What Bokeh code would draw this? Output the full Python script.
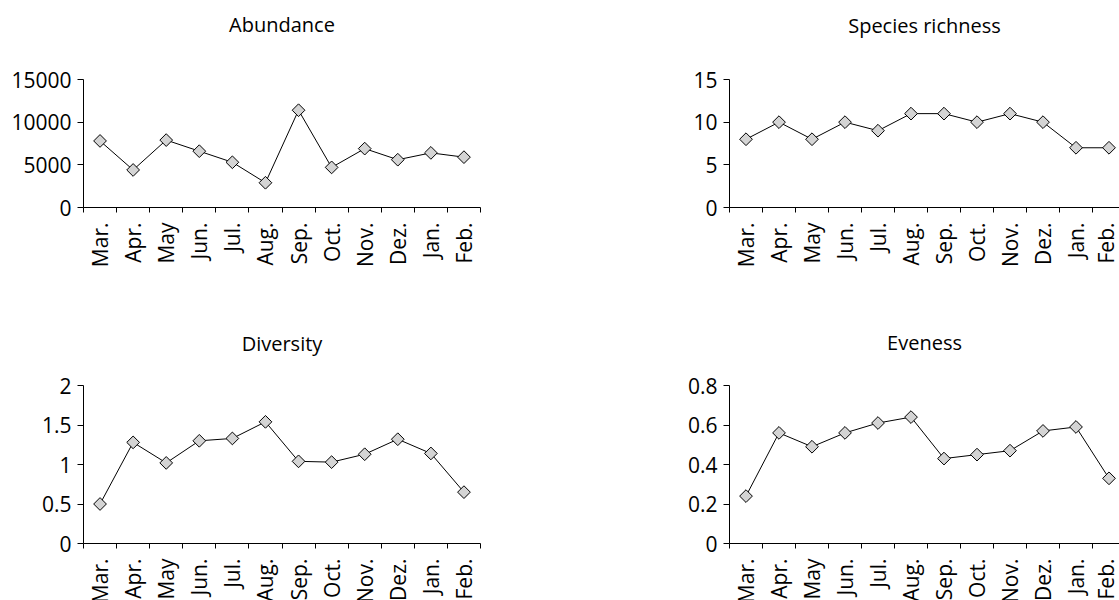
import numpy as np
from bokeh.plotting import figure
from bokeh.layouts import row, column
from bokeh.models import Range1d, FixedTicker, Title
from bokeh.embed import file_html
from bokeh.resources import INLINE

months = ["Mar.", "Apr.", "May", "Jun.", "Jul.", "Aug.", "Sep.", "Oct.", "Nov.", "Dez.", "Jan.", "Feb."]
abundance = [7800, 4400, 7900, 6600, 5300, 2900, 11400, 4700, 6900, 5600, 6400, 5900]
richness = [8, 10, 8, 10, 9, 11, 11, 10, 11, 10, 7, 7]
diversity = [0.50, 1.28, 1.02, 1.30, 1.33, 1.54, 1.04, 1.03, 1.13, 1.32, 1.14, 0.65]
eveness = [0.24, 0.56, 0.49, 0.56, 0.61, 0.64, 0.43, 0.45, 0.47, 0.57, 0.59, 0.33]

titles = ["Abundance", "Species richness", "Diversity", "Eveness"]
ticks_abundance = [0, 5000, 10000, 15000]
labels_abundance = ["0", "5000", "10000", "15000"]
ticks_richness = [0, 5, 10, 15]
labels_richness = ["0", "5", "10", "15"]
ticks_diversity = [0, 0.5, 1, 1.5, 2]
labels_diversity = ["0", "0.5", "1", "1.5", "2"]
ticks_eveness = [0, 0.2, 0.4, 0.6, 0.8]
labels_eveness = ["0", "0.2", "0.4", "0.6", "0.8"]

FONT = "Open Sans"
TITLE_FS = "20px"
TICK_FS = "21px"


def panel(title, values, yticks, ylabels, width, height, bl, br, bt, bb, x_end, spacer):
    n = len(months)
    centers = [i + 0.5 for i in range(n)]
    bounds = [float(i) for i in range(n + 1)]
    p = figure(width=width, height=height, output_backend="svg", toolbar_location=None,
               x_range=Range1d(0, x_end), y_range=Range1d(yticks[0], yticks[-1]))
    p.min_border_left = bl
    p.min_border_right = br
    p.min_border_top = bt
    p.min_border_bottom = bb
    p.outline_line_color = None
    p.xgrid.visible = False
    p.ygrid.visible = False
    p.background_fill_color = "white"
    p.border_fill_color = "white"

    # spacing between the title and the plot area
    p.add_layout(Title(text=" ", text_font_size="1px", standoff=spacer), "above")
    p.add_layout(Title(text=title, align="center", text_font=FONT, text_font_size=TITLE_FS,
                       text_font_style="normal", text_color="black", standoff=0), "above")

    xa = p.xaxis[0]
    xa.ticker = FixedTicker(ticks=centers, minor_ticks=bounds)
    xa.major_label_overrides = {c: m for c, m in zip(centers, months)}
    xa.major_tick_out = 0
    xa.major_tick_in = 0
    xa.minor_tick_out = 5
    xa.minor_tick_in = 0
    xa.minor_tick_line_color = "black"
    xa.axis_line_color = "black"
    xa.major_label_orientation = np.pi / 2
    xa.major_label_standoff = 10
    xa.major_label_text_font = FONT
    xa.major_label_text_font_size = TICK_FS
    xa.major_label_text_color = "black"

    ya = p.yaxis[0]
    ya.ticker = FixedTicker(ticks=yticks)
    ya.major_label_overrides = {t: l for t, l in zip(yticks, ylabels)}
    ya.major_tick_out = 6
    ya.major_tick_in = 0
    ya.minor_tick_out = 0
    ya.minor_tick_in = 0
    ya.major_tick_line_color = "black"
    ya.axis_line_color = "black"
    ya.major_label_standoff = 6
    ya.major_label_text_font = FONT
    ya.major_label_text_font_size = TICK_FS
    ya.major_label_text_color = "black"

    p.line(centers, values, line_color="black", line_width=1)
    p.scatter(centers, values, marker="square", angle=np.pi / 4, size=9,
              fill_color="#d4d4d4", line_color="black", line_width=1)
    return p


p1 = panel(titles[0], abundance, ticks_abundance, labels_abundance,
           600, 320, 83, 120, 79, 113, 12, 39)
p2 = panel(titles[1], richness, ticks_richness, labels_richness,
           519, 320, 129, 0, 76, 108, 390 / 33, 38)
p3 = panel(titles[2], diversity, ticks_diversity, labels_diversity,
           600, 286, 83, 120, 63, 60, 12, 26)
p4 = panel(titles[3], eveness, ticks_eveness, labels_eveness,
           519, 286, 129, 0, 65, 60, 390 / 33, 27)

layout = column(row(p1, p2), row(p3, p4), width=1119, height=600,
                styles={"overflow": "hidden"})

open("out.html", "w").write(file_html(layout, INLINE))
